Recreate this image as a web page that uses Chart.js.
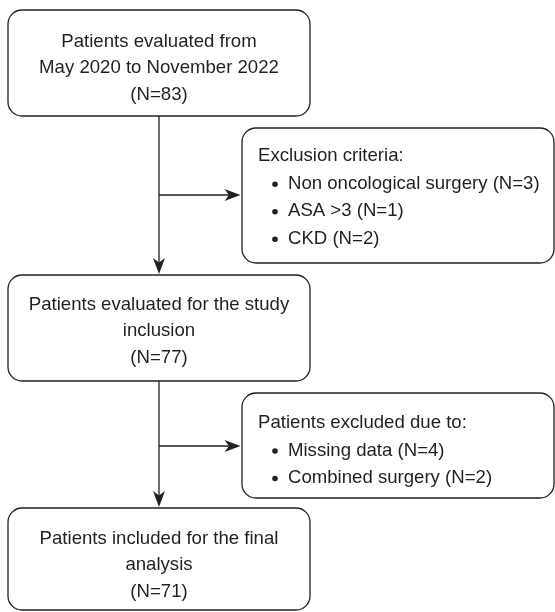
<!DOCTYPE html>
<html>
<head>
<meta charset="utf-8">
<script src="https://cdn.jsdelivr.net/npm/chart.js@4.4.0/dist/chart.umd.min.js"></script>
<style>
  body { margin: 0; background: #fff; }
</style>
</head>
<body>
<canvas id="flow" width="555" height="612"></canvas>
<script>
// main column steps
var stepLabels = [
  ['Patients evaluated from', 'May 2020 to November 2022'],
  ['Patients evaluated for the study', 'inclusion'],
  ['Patients included for the final', 'analysis']
];
var stepCounts = [83, 77, 71];

// side boxes (exclusions)
var exclusionTitles = ['Exclusion criteria:', 'Patients excluded due to:'];
var exclusionItems = [
  ['Non oncological surgery', 'ASA >3', 'CKD'],
  ['Missing data', 'Combined surgery']
];
var exclusionCounts = [[3, 1, 2], [4, 2]];

// layout, in chart units (x 0..555, y 0..612 top-down)
var mainBoxes = [
  { x0: 8, x1: 310, y0: 10, y1: 116, dy: 5 },
  { x0: 8, x1: 310, y0: 275, y1: 381, dy: 3 },
  { x0: 8, x1: 310, y0: 508, y1: 610, dy: 6 }
];
var sideBoxes = [
  { x0: 242, x1: 554, y0: 128, y1: 263, dy: 2 },
  { x0: 242, x1: 554, y0: 393, y1: 498, dy: 5 }
];
var branchY = [195, 446];

var INK = '#231f20';
var FONT = "18.6px 'Liberation Sans', Arial, Helvetica, sans-serif";

function roundBox(ctx, x0, y0, x1, y1, r) {
  ctx.beginPath();
  ctx.moveTo(x0 + r, y0);
  ctx.arcTo(x1, y0, x1, y1, r);
  ctx.arcTo(x1, y1, x0, y1, r);
  ctx.arcTo(x0, y1, x0, y0, r);
  ctx.arcTo(x0, y0, x1, y0, r);
  ctx.closePath();
  ctx.stroke();
}

// filled arrow head pointing along (dx, dy)
function arrowHead(ctx, x, y, dx, dy) {
  var len = 16, w = 6, notch = 4.5;
  var px = -dy, py = dx;
  ctx.beginPath();
  ctx.moveTo(x, y);
  ctx.lineTo(x - dx * len + px * w, y - dy * len + py * w);
  ctx.lineTo(x - dx * (len - notch), y - dy * (len - notch));
  ctx.lineTo(x - dx * len - px * w, y - dy * len - py * w);
  ctx.closePath();
  ctx.fill();
}

var flowPlugin = {
  id: 'flow',
  afterDatasetsDraw: function(chart) {
    var ctx = chart.ctx;
    var xs = chart.scales.x, ys = chart.scales.y;
    function X(v) { return xs.getPixelForValue(v); }
    function Y(v) { return ys.getPixelForValue(v); }

    ctx.save();
    ctx.strokeStyle = INK;
    ctx.fillStyle = INK;
    ctx.lineWidth = 1.3;
    ctx.font = FONT;

    // main boxes
    mainBoxes.forEach(function(b, i) {
      roundBox(ctx, X(b.x0), Y(b.y0), X(b.x1), Y(b.y1), 14);
      var lines = stepLabels[i].concat(['(N=' + stepCounts[i] + ')']);
      var cx = X((b.x0 + b.x1) / 2);
      var cy = Y((b.y0 + b.y1) / 2) + b.dy;
      var gap = 26.5;
      ctx.textAlign = 'center';
      ctx.textBaseline = 'middle';
      lines.forEach(function(t, k) {
        ctx.fillText(t, cx, cy + (k - (lines.length - 1) / 2) * gap);
      });
    });

    // side boxes
    sideBoxes.forEach(function(b, i) {
      roundBox(ctx, X(b.x0), Y(b.y0), X(b.x1), Y(b.y1), 14);
      var n = exclusionItems[i].length + 1;
      var cy = Y((b.y0 + b.y1) / 2) + b.dy;
      var gap = 27.5;
      var left = X(b.x0) + 16;
      ctx.textAlign = 'left';
      ctx.textBaseline = 'middle';
      ctx.fillText(exclusionTitles[i], left, cy - (n - 1) / 2 * gap);
      exclusionItems[i].forEach(function(t, k) {
        var y = cy + (k + 1 - (n - 1) / 2) * gap;
        ctx.beginPath();
        ctx.arc(left + 17, y + 0.5, 2.8, 0, Math.PI * 2);
        ctx.fill();
        ctx.fillText(t + ' (N=' + exclusionCounts[i][k] + ')', left + 30, y);
      });
    });

    // connectors
    var cxMain = X((mainBoxes[0].x0 + mainBoxes[0].x1) / 2);
    for (var s = 0; s < 2; s++) {
      var top = Y(mainBoxes[s].y1);
      var bottom = Y(mainBoxes[s + 1].y0) - 1;
      ctx.beginPath();
      ctx.moveTo(cxMain, top);
      ctx.lineTo(cxMain, bottom - 6);
      ctx.stroke();
      arrowHead(ctx, cxMain, bottom, 0, 1);

      var by = Y(branchY[s]);
      var bx = X(sideBoxes[s].x0) - 1.5;
      ctx.beginPath();
      ctx.moveTo(cxMain, by);
      ctx.lineTo(bx - 6, by);
      ctx.stroke();
      arrowHead(ctx, bx, by, 1, 0);
    }
    ctx.restore();
  }
};

// box centres as invisible points so each node sits on the chart's scales
var nodePoints = mainBoxes.concat(sideBoxes).map(function(b) {
  return { x: (b.x0 + b.x1) / 2, y: (b.y0 + b.y1) / 2 };
});

new Chart(document.getElementById('flow'), {
  type: 'scatter',
  data: {
    datasets: [{
      label: 'nodes',
      data: nodePoints,
      pointRadius: 0,
      pointHoverRadius: 0
    }]
  },
  options: {
    responsive: false,
    animation: false,
    events: [],
    layout: { padding: 0 },
    plugins: { legend: { display: false }, tooltip: { enabled: false } },
    scales: {
      x: { type: 'linear', min: 0, max: 555, display: false },
      y: { type: 'linear', min: 0, max: 612, reverse: true, display: false }
    }
  },
  plugins: [flowPlugin]
});
</script>
</body>
</html>
